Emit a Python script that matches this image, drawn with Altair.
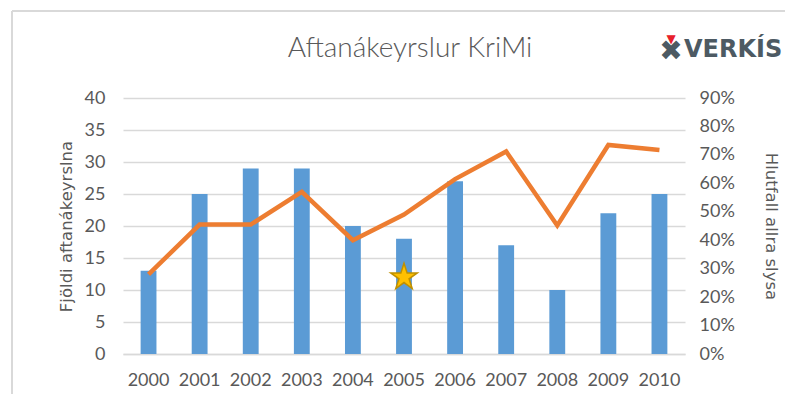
import altair as alt
import pandas as pd

years = ["2000", "2001", "2002", "2003", "2004", "2005", "2006", "2007", "2008", "2009", "2010"]
counts = [13, 25, 29, 29, 20, 18, 27, 17, 10, 22, 25]
shares = [0.28, 0.455, 0.455, 0.57, 0.40, 0.49, 0.615, 0.712, 0.452, 0.735, 0.717]
star_year = ["2005"]
star_value = [12]
left_ticks = [0, 5, 10, 15, 20, 25, 30, 35, 40]
right_ticks = [0, 0.1, 0.2, 0.3, 0.4, 0.5, 0.6, 0.7, 0.8, 0.9]
chart_title = ["Aftanákeyrslur KriMi"]

df = pd.DataFrame({"year": years, "count": counts, "share": shares})
star_df = pd.DataFrame({"year": star_year, "count": star_value})

GRAY = "#595959"
STAR = ("M0,-1L0.2245,-0.309L0.951,-0.309L0.3633,0.118L0.5878,0.809L0,0.382"
        "L-0.5878,0.809L-0.3633,0.118L-0.951,-0.309L-0.2245,-0.309Z")

base = alt.Chart(df).encode(
    x=alt.X("year:O", scale=alt.Scale(paddingInner=0.69, paddingOuter=0.345),
            axis=alt.Axis(title=None, labelFontSize=18, labelColor=GRAY, labelFont="Lato",
                          ticks=False, domainColor="#d9d9d9", domainWidth=1.5,
                          labelPadding=17, labelAngle=0))
)

left_axis = alt.Axis(title="Fjöldi aftanákeyrslna", values=left_ticks,
                     labelFontSize=18, labelColor=GRAY, labelFont="Lato",
                     titleFont="DejaVu Sans", titleFontSize=16.5, titleFontWeight="normal",
                     titleColor=GRAY, titlePadding=10, ticks=False, domain=False,
                     labelPadding=18, grid=True, gridColor="#d9d9d9", gridWidth=1.5)
left_scale = alt.Scale(domain=[0, 40], nice=False)

bars = base.mark_bar(color="#5b9bd5").encode(
    y=alt.Y("count:Q", scale=left_scale, axis=left_axis),
)

star = alt.Chart(star_df).mark_point(shape=STAR, filled=True, color="#ffc000",
                                     stroke="#bf9000", strokeWidth=1.5, opacity=1,
                                     size=780).encode(
    x=alt.X("year:O"),
    y=alt.Y("count:Q", scale=left_scale, axis=left_axis),
)

deco = pd.DataFrame({"a": [0]})
top_rule = alt.Chart(deco).mark_rule(color="#d9d9d9", strokeWidth=2).encode(
    x=alt.value(-111), x2=alt.value(700), y=alt.value(-87))
left_rule = alt.Chart(deco).mark_rule(color="#d9d9d9", strokeWidth=2).encode(
    x=alt.value(-111), y=alt.value(-87), y2=alt.value(320))

title_text = alt.Chart(pd.DataFrame({"t": chart_title})).mark_text(
    font="Lato", fontSize=28, fontWeight=300, color=GRAY, align="center",
    baseline="middle").encode(text="t:N", x=alt.value(287), y=alt.value(-49))

logo_text = alt.Chart(pd.DataFrame({"t": ["VERKÍS"]})).mark_text(
    font="DejaVu Sans", fontSize=24, fontWeight="bold", color="#4d5a63", align="left",
    baseline="middle").encode(text="t:N", x=alt.value(561), y=alt.value(-48))
logo_icon = alt.Chart(pd.DataFrame({"t": ["✖"]})).mark_text(
    font="DejaVu Sans", fontSize=28, color="#4d5a63", align="center",
    baseline="middle").encode(text="t:N", x=alt.value(548), y=alt.value(-46))
logo_v = alt.Chart(pd.DataFrame({"t": ["▼"]})).mark_text(
    font="DejaVu Sans", fontSize=12, color="#e8202a", align="center",
    baseline="middle").encode(text="t:N", x=alt.value(548), y=alt.value(-59))

left = alt.layer(bars, star, top_rule, left_rule, title_text, logo_icon, logo_v, logo_text)

line = base.mark_line(color="#ed7d31", strokeWidth=4.5).encode(
    y=alt.Y("share:Q", scale=alt.Scale(domain=[0, 0.9], nice=False),
            axis=alt.Axis(title="Hlutfall allra slysa", orient="right", format=".0%",
                          values=right_ticks,
                          labelFontSize=18, labelColor=GRAY, labelFont="Lato",
                          titleFont="DejaVu Sans", titleFontSize=16.5,
                          titleFontWeight="normal", titleColor=GRAY, titlePadding=28,
                          ticks=False, domain=False, grid=False, labelPadding=14)),
)

chart = alt.layer(left, line).resolve_scale(y="independent").properties(
    width=562, height=256,
    autosize=alt.AutoSizeParams(type="none"),
    padding={"left": 115, "top": 90, "right": 100, "bottom": 40},
).configure_view(stroke=None)

chart.save("out.html", embed_options={"renderer": "svg", "actions": False})
